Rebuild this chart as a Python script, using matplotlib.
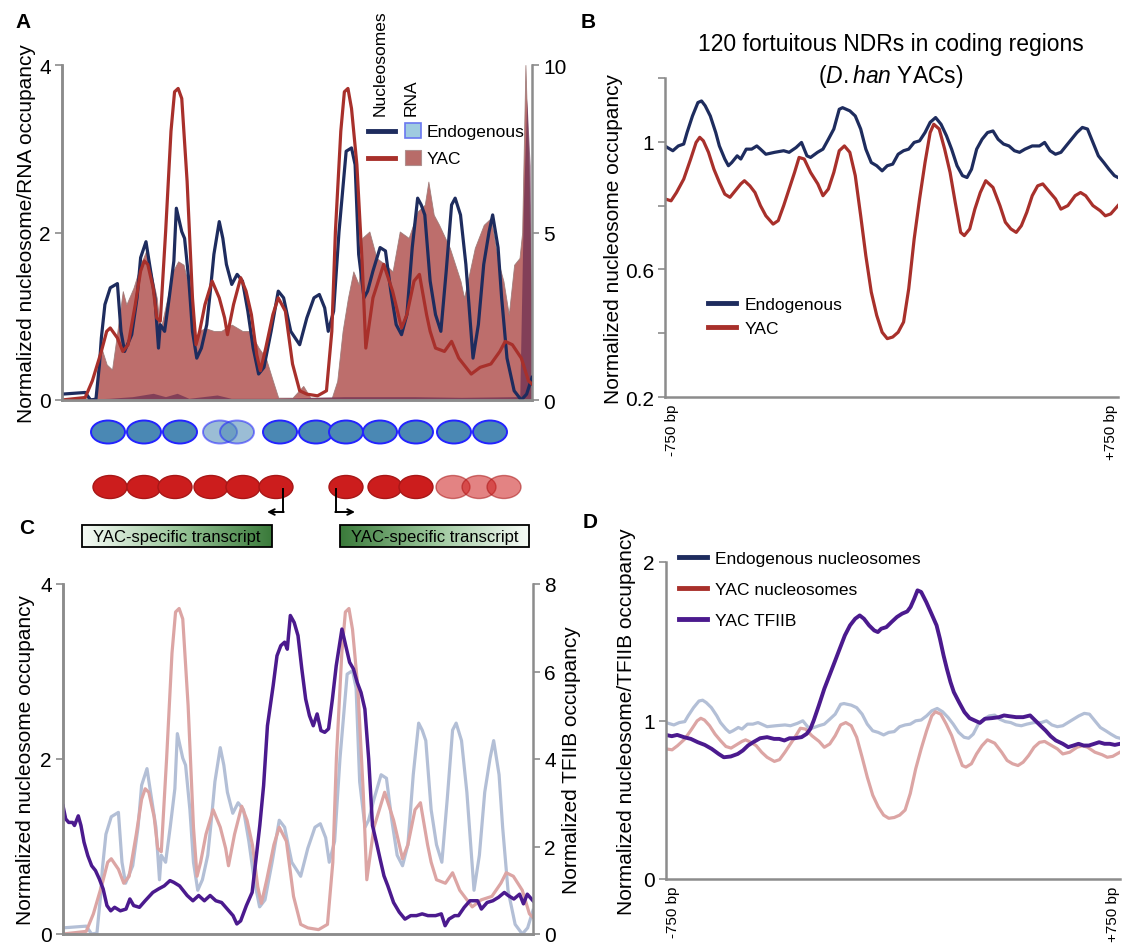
import numpy as np
import matplotlib.pyplot as plt
from matplotlib.patches import Ellipse, Rectangle
from matplotlib.colors import LinearSegmentedColormap
from matplotlib.lines import Line2D

plt.rcParams['font.family'] = ['Liberation Sans', 'DejaVu Sans']
plt.rcParams['mathtext.fontset'] = 'custom'
plt.rcParams['mathtext.rm'] = 'Liberation Sans'
plt.rcParams['mathtext.it'] = 'Liberation Sans:italic'

# ---- panel A / C : single locus, x in % of the window ----
a_navy_x = [0, 4.94, 6.08, 7.22, 7.98, 8.37, 9.13, 10.27, 11.79, 12.55,
            13.31, 14.83, 15.97, 16.73, 17.87, 18.63, 19.77, 20.53, 20.91, 21.83,
            22.81, 23.80, 24.33, 25.48, 26.08, 27.00, 27.76, 28.67, 29.66, 30.80,
            31.56, 32.32, 33.46, 34.22, 34.98, 36.12, 37.26, 38.40, 39.54, 40.68,
            41.83, 42.97, 44.49, 46.01, 47.15, 48.67, 50.57, 52.09, 53.61, 54.75,
            55.89, 56.65, 57.79, 58.94, 59.70, 60.46, 61.60, 62.36, 63.12, 64.26,
            65.02, 66.16, 67.68, 68.82, 69.96, 71.10, 72.24, 73.38, 74.52, 75.67,
            76.43, 77.19, 78.33, 79.47, 80.61, 81.75, 82.89, 83.65, 84.79, 85.93,
            87.45, 88.59, 89.73, 90.87, 91.63, 92.78, 93.54, 94.68, 96.20, 97.72,
            98.86, 100]
a_navy_y = [0.07, 0.09, 0.0, 0.01, 0.43, 0.74, 1.14, 1.34, 1.39, 0.82,
            0.58, 0.78, 1.22, 1.70, 1.89, 1.62, 1.22, 0.62, 0.90, 0.82,
            1.22, 1.66, 2.29, 2.01, 1.93, 1.42, 0.82, 0.50, 0.62, 0.90,
            1.30, 1.74, 2.13, 1.93, 1.62, 1.38, 1.50, 1.42, 1.06, 0.62,
            0.31, 0.39, 0.82, 1.30, 1.22, 0.82, 0.66, 0.98, 1.22, 1.26,
            1.10, 0.82, 1.06, 2.01, 2.49, 2.97, 3.01, 2.81, 1.74, 1.22,
            1.30, 1.54, 1.82, 1.78, 1.30, 0.90, 0.78, 1.02, 1.82, 2.41,
            2.33, 2.21, 1.42, 1.02, 0.82, 1.54, 2.33, 2.41, 2.21, 1.62,
            0.50, 0.90, 1.62, 2.01, 2.21, 1.82, 1.22, 0.50, 0.11, 0.0,
            0.07, 0.27]

a_red_x = [0, 4.94, 6.46, 8.37, 9.51, 10.27, 11.79, 12.93, 14.07, 15.59,
           16.73, 17.49, 18.25, 19.39, 20.15, 20.91, 22.05, 23.19, 23.95, 24.71,
           25.48, 26.62, 27.76, 28.52, 29.28, 30.42, 31.94, 33.46, 34.60, 35.21,
           36.50, 38.02, 39.16, 40.30, 41.44, 42.21, 43.35, 44.87, 46.01, 47.53,
           49.05, 50.57, 52.09, 54.37, 56.27, 57.41, 58.17, 59.32, 60.08, 60.84,
           61.60, 62.74, 63.88, 64.64, 66.16, 68.44, 70.34, 72.24, 73.38, 74.90,
           76.05, 77.57, 78.33, 79.47, 81.37, 82.89, 84.41, 87.07, 88.97, 91.25,
           93.16, 94.30, 95.82, 97.72, 99.24, 100]
a_red_y = [0.0, 0.03, 0.23, 0.58, 0.82, 0.86, 0.74, 0.58, 0.66, 1.14,
           1.54, 1.66, 1.62, 1.34, 0.98, 0.94, 2.01, 3.21, 3.68, 3.72,
           3.60, 2.61, 1.22, 0.66, 0.82, 1.14, 1.42, 1.22, 0.98, 0.78,
           1.14, 1.46, 1.30, 1.02, 0.54, 0.35, 0.62, 1.02, 1.22, 1.06,
           0.43, 0.11, 0.07, 0.05, 0.11, 0.82, 2.01, 3.21, 3.68, 3.72,
           3.48, 2.81, 1.62, 0.62, 1.22, 1.62, 1.30, 0.86, 1.02, 1.42,
           1.50, 1.02, 0.82, 0.62, 0.58, 0.70, 0.50, 0.31, 0.39, 0.43,
           0.58, 0.70, 0.66, 0.50, 0.23, 0.19]

rna_yac_x = [0, 7.22, 8.37, 9.51, 10.65, 11.79, 12.93, 13.69, 15.21, 16.73,
             17.87, 18.63, 20.15, 20.91, 22.43, 23.57, 24.71, 25.86, 27.00, 28.14,
             29.28, 30.42, 32.32, 33.84, 36.12, 38.40, 39.92, 41.83, 43.35, 44.87,
             46.01, 49.05, 51.33, 52.85, 57.41, 58.56, 59.70, 60.84, 61.98, 63.12,
             63.88, 65.40, 66.92, 68.82, 70.34, 71.86, 73.76, 75.67, 77.19, 77.95,
             79.09, 80.23, 82.51, 84.79, 85.55, 87.83, 89.73, 91.25, 92.78, 93.92,
             95.06, 96.20, 97.34, 97.90, 98.60, 99.24, 100]
rna_yac_y = [0, 0.07, 1.56, 1.06, 0.91, 2.06, 3.25, 2.85, 3.35, 4.04,
             4.44, 4.04, 3.05, 2.06, 3.05, 3.84, 4.14, 4.04, 3.35, 1.56,
             2.06, 2.15, 2.06, 2.06, 2.25, 2.06, 2.06, 1.56, 1.26, 0.57,
             0.07, 0.07, 0.42, 0.07, 0.07, 0.57, 2.06, 3.05, 3.84, 3.45,
             4.84, 5.03, 4.24, 4.04, 3.84, 5.03, 4.84, 5.63, 5.83, 6.52,
             5.53, 5.23, 4.54, 3.55, 3.05, 4.54, 5.23, 5.43, 4.14, 3.55,
             2.55, 4.04, 4.24, 5.0, 10.0, 7.0, 1.5]

rna_endo_x = [0, 10, 15, 19.4, 22, 24.5, 27, 33, 36, 45, 60, 75, 85, 96.5, 97.4, 98.2, 98.9, 99.6, 100]
rna_endo_y = [0, 0.05, 0.1, 0.2, 0.1, 0.2, 0.05, 0.15, 0.05, 0.05, 0.1, 0.1, 0.08, 0.1, 0.1, 6.0, 9.0, 7.0, 1.0]

c_tfiib_x = [0, 0.57, 1.22, 2.03, 2.44, 3.25, 3.82, 4.47, 5.28, 6.10,
             6.91, 7.72, 8.54, 9.35, 10.16, 10.98, 12.20, 13.41, 14.23, 15.04,
             16.26, 17.48, 19.11, 20.33, 21.54, 22.76, 23.58, 24.80, 26.42, 27.64,
             28.86, 30.08, 31.30, 32.52, 33.74, 34.96, 36.18, 36.99, 37.80, 39.02,
             40.24, 41.06, 41.87, 42.68, 43.50, 44.72, 45.53, 46.34, 47.15, 47.72,
             48.37, 49.19, 50.00, 50.81, 51.63, 52.44, 53.25, 54.07, 54.88, 55.69,
             56.50, 57.32, 58.13, 59.35, 60.16, 60.98, 61.79, 62.60, 63.41, 64.23,
             65.04, 65.85, 66.67, 67.48, 68.29, 69.11, 70.33, 71.54, 72.76, 73.98,
             75.20, 76.42, 77.64, 79.27, 80.49, 81.30, 82.11, 83.33, 84.15, 85.37,
             86.59, 88.21, 89.02, 90.24, 91.46, 92.68, 93.90, 94.72, 95.93, 97.15,
             97.97, 98.78, 100]
c_tfiib_y = [2.93, 2.63, 2.55, 2.55, 2.48, 2.70, 2.48, 2.10, 1.79, 1.56,
             1.45, 1.26, 1.03, 0.65, 0.53, 0.61, 0.53, 0.57, 0.80, 0.65,
             0.61, 0.76, 0.95, 1.03, 1.10, 1.22, 1.18, 1.10, 0.88, 0.76,
             0.88, 0.76, 0.88, 0.76, 0.72, 0.57, 0.42, 0.23, 0.30, 0.65,
             0.95, 1.71, 2.48, 3.39, 4.76, 5.68, 6.36, 6.59, 6.67, 6.51,
             7.28, 7.12, 6.82, 6.06, 5.37, 4.99, 4.76, 5.03, 4.65, 4.61,
             4.69, 5.37, 6.13, 6.97, 6.59, 6.21, 6.06, 5.75, 5.52, 5.14,
             4.00, 2.48, 2.10, 1.71, 1.33, 1.10, 0.72, 0.50, 0.34, 0.42,
             0.42, 0.46, 0.42, 0.42, 0.46, 0.19, 0.34, 0.42, 0.42, 0.61,
             0.76, 0.76, 0.57, 0.72, 0.76, 0.84, 0.95, 0.88, 0.80, 0.91,
             0.69, 0.91, 0.76]

# ---- panel B / D : 120 NDR average, x in bp ----
b_endo_x = [-750, -742, -724, -706, -688, -677, -659, -641, -629, -617,
            -600, -582, -570, -552, -540, -529, -511, -499, -481, -463,
            -446, -434, -416, -387, -357, -339, -316, -298, -280, -268,
            -245, -227, -209, -191, -173, -162, -138, -120, -102, -85,
            -67, -49, -31, -14, 4, 22, 40, 57, 75, 93,
            111, 128, 146, 164, 182, 199, 217, 235, 250, 265,
            282, 300, 318, 336, 353, 371, 389, 407, 424, 442,
            466, 490, 507, 525, 543, 561, 578, 596, 614, 632,
            649, 667, 685, 703, 720, 738, 750]
b_endo_y = [0.987, 0.982, 0.972, 0.987, 0.993, 1.029, 1.081, 1.123, 1.128, 1.113,
            1.081, 1.029, 0.987, 0.946, 0.925, 0.935, 0.956, 0.946, 0.977, 0.977,
            0.987, 0.977, 0.961, 0.967, 0.972, 0.967, 0.982, 0.998, 0.956, 0.951,
            0.967, 0.977, 1.008, 1.040, 1.102, 1.107, 1.097, 1.081, 1.040, 0.977,
            0.935, 0.925, 0.909, 0.925, 0.930, 0.961, 0.972, 0.977, 0.998, 1.003,
            1.029, 1.061, 1.076, 1.055, 1.019, 0.977, 0.925, 0.894, 0.888, 0.914,
            0.977, 1.008, 1.029, 1.034, 1.008, 0.993, 0.987, 0.972, 0.967, 0.977,
            0.987, 0.987, 0.998, 0.972, 0.961, 0.967, 0.987, 1.008, 1.029, 1.045,
            1.040, 0.998, 0.956, 0.935, 0.914, 0.894, 0.888]

b_yac_x = [-750, -730, -712, -688, -665, -647, -635, -623, -606, -588,
           -570, -552, -535, -517, -499, -487, -469, -452, -434, -416,
           -392, -375, -357, -339, -321, -306, -289, -268, -244, -227,
           -209, -191, -173, -156, -138, -120, -102, -85, -67, -49,
           -31, -14, 4, 22, 40, 57, 75, 93, 111, 128,
           140, 158, 176, 194, 211, 229, 241, 259, 276, 294,
           312, 336, 359, 377, 395, 413, 430, 448, 466, 484,
           501, 525, 543, 561, 584, 608, 626, 643, 667, 691,
           708, 726, 750]
b_yac_y = [0.821, 0.815, 0.841, 0.883, 0.946, 0.998, 1.014, 1.003, 0.967, 0.914,
           0.873, 0.836, 0.826, 0.847, 0.868, 0.878, 0.862, 0.841, 0.800, 0.768,
           0.742, 0.753, 0.800, 0.852, 0.904, 0.951, 0.946, 0.904, 0.868, 0.831,
           0.852, 0.904, 0.972, 0.987, 0.967, 0.894, 0.768, 0.643, 0.529, 0.456,
           0.403, 0.383, 0.388, 0.403, 0.435, 0.539, 0.695, 0.821, 0.935, 1.029,
           1.055, 1.040, 0.977, 0.904, 0.810, 0.716, 0.706, 0.727, 0.789, 0.841,
           0.878, 0.857, 0.800, 0.748, 0.727, 0.716, 0.737, 0.779, 0.831, 0.862,
           0.868, 0.841, 0.821, 0.789, 0.800, 0.831, 0.841, 0.831, 0.800, 0.784,
           0.768, 0.774, 0.800]

d_tfiib_x = [-750, -731, -713, -691, -668, -645, -622, -599, -576, -559,
             -536, -513, -496, -479, -462, -439, -416, -393, -376, -359,
             -342, -325, -302, -285, -273, -262, -245, -227, -210, -193,
             -176, -159, -142, -125, -110, -96, -79, -62, -50, -39,
             -22, -5, 13, 30, 47, 58, 70, 81, 93, 110,
             127, 144, 155, 167, 178, 190, 201, 218, 236, 253,
             270, 287, 304, 327, 350, 367, 384, 407, 430, 453,
             470, 487, 504, 521, 538, 561, 579, 596, 613, 630,
             647, 665, 681, 699, 716, 733, 750]
d_tfiib_y = [0.909, 0.901, 0.909, 0.895, 0.884, 0.863, 0.846, 0.821, 0.789, 0.768,
             0.773, 0.789, 0.811, 0.842, 0.863, 0.888, 0.895, 0.884, 0.884, 0.874,
             0.888, 0.888, 0.895, 0.916, 0.947, 1.000, 1.095, 1.200, 1.284, 1.368,
             1.453, 1.537, 1.600, 1.642, 1.663, 1.642, 1.600, 1.568, 1.558, 1.579,
             1.589, 1.621, 1.653, 1.674, 1.688, 1.716, 1.768, 1.821, 1.811, 1.747,
             1.674, 1.600, 1.516, 1.411, 1.326, 1.242, 1.179, 1.116, 1.053, 1.015,
             1.000, 0.985, 1.011, 1.015, 1.021, 1.032, 1.027, 1.021, 1.021, 1.032,
             1.000, 0.968, 0.937, 0.901, 0.874, 0.853, 0.832, 0.842, 0.853, 0.842,
             0.842, 0.853, 0.863, 0.853, 0.853, 0.846, 0.853]

# schematic nucleosome positions (figure pixels)
endo_nuc_x = [108, 144, 180, 220, 237, 280, 316, 346, 380, 416, 454, 490]
endo_nuc_fuzzy = [False, False, False, True, True, False, False, False, False, False, False, False]
yac_nuc_x = [110, 144, 175, 211, 243, 276, 346, 385, 416, 453, 479, 504]
yac_nuc_fuzzy = [False] * 9 + [True, True, True]

NAVY = '#1e2c5e'
RED = '#a8302b'
RNA_FILL = '#b8625f'
ENDO_FILL = '#6a2c50'
NAVY_FADE = '#b3bfd6'
RED_FADE = '#dca5a4'
PURPLE = '#4b1a8e'
GRAY = '#8c8c8c'

W, H = 1126, 945


def box(l, t, r, b):
    return [l / W, 1 - b / H, (r - l) / W, (b - t) / H]


def style(ax, sides):
    for s in ['left', 'right', 'top', 'bottom']:
        ax.spines[s].set_visible(s in sides)
        ax.spines[s].set_color(GRAY)
        ax.spines[s].set_linewidth(1.8)
    ax.tick_params(direction='out', length=5, width=1.2, color=GRAY, labelsize=15, pad=3)


def bp_ticks(ax):
    ax.set_xticks([-750, 750])
    ax.set_xticklabels(['-750 bp', '+750 bp'], rotation=90, fontsize=11)
    ax.tick_params(axis='x', length=0, pad=5)
    lab = ax.get_xticklabels()
    lab[0].set_ha('left')
    lab[1].set_ha('right')


fig = plt.figure(figsize=(W / 100, H / 100), dpi=100)

# ---------------- A ----------------
ax_a = fig.add_axes(box(62, 66, 532, 401))
ax_a2 = ax_a.twinx()
ax_a.set_zorder(ax_a2.get_zorder() + 1)
ax_a.patch.set_visible(False)
ax_a2.fill_between(rna_yac_x, rna_yac_y, color=RNA_FILL, alpha=0.92, edgecolor='#9c7a78', lw=0.6)
ax_a2.fill_between(rna_endo_x, rna_endo_y, color=ENDO_FILL, alpha=0.7, lw=0)
ax_a.plot(a_navy_x, a_navy_y, color=NAVY, lw=2.3)
ax_a.plot(a_red_x, a_red_y, color=RED, lw=2.3)
ax_a.set_xlim(0, 100)
ax_a.set_ylim(0, 4)
ax_a2.set_ylim(0, 10)
ax_a.set_yticks([0, 2, 4])
ax_a2.set_yticks([0, 5, 10])
ax_a.set_xticks([])
style(ax_a, ['left', 'bottom'])
style(ax_a2, ['right', 'left', 'bottom'])
ax_a.set_ylabel('Normalized nucleosome/RNA occupancy', fontsize=15)
ax_a.yaxis.set_label_coords(-0.055, 0.5)

# ---------------- B ----------------
ax_b = fig.add_axes(box(665, 79, 1118, 398))
ax_b.plot(b_endo_x, b_endo_y, color=NAVY, lw=2.3)
ax_b.plot(b_yac_x, b_yac_y, color=RED, lw=2.3)
ax_b.set_xlim(-750, 750)
ax_b.set_ylim(0.2, 1.2)
ax_b.set_yticks([0.2, 0.4, 0.6, 0.8, 1.0, 1.2])
ax_b.set_yticklabels(['0.2', '', '0.6', '', '1', ''])
style(ax_b, ['left', 'bottom'])
bp_ticks(ax_b)
ax_b.set_ylabel('Normalized nucleosome occupancy', fontsize=15)
ax_b.yaxis.set_label_coords(-0.093, 0.5)
fig.text(891 / W, 1 - 45 / H, '120 fortuitous NDRs in coding regions', ha='center', va='center', fontsize=16.5)
fig.text(891 / W, 1 - 77 / H, r'($\mathit{D.han}$ YACs)', ha='center', va='center', fontsize=16.5)
ax_b.legend(handles=[Line2D([], [], color=NAVY, lw=3.5), Line2D([], [], color=RED, lw=3.5)],
            labels=['Endogenous', 'YAC'], loc='upper left',
            bbox_to_anchor=(708 / W, 1 - 298 / H), bbox_transform=fig.transFigure,
            frameon=False, fontsize=12.5, handlelength=1.6, handletextpad=0.5,
            labelspacing=0.5, borderpad=0, borderaxespad=0)

# ---------------- C ----------------
ax_c = fig.add_axes(box(63, 585, 533, 935))
ax_c2 = ax_c.twinx()
ax_c.plot(a_navy_x, a_navy_y, color=NAVY_FADE, lw=2.3)
ax_c.plot(a_red_x, a_red_y, color=RED_FADE, lw=2.3)
ax_c2.plot(c_tfiib_x, c_tfiib_y, color=PURPLE, lw=2.5)
ax_c.set_xlim(0, 100)
ax_c.set_ylim(0, 4)
ax_c2.set_ylim(0, 8)
ax_c.set_yticks([0, 2, 4])
ax_c2.set_yticks([0, 2, 4, 6, 8])
ax_c.set_xticks([])
style(ax_c, ['left', 'bottom'])
style(ax_c2, ['right', 'left', 'bottom'])
ax_c.set_ylabel('Normalized nucleosome occupancy', fontsize=15)
ax_c.yaxis.set_label_coords(-0.060, 0.5)
ax_c2.set_ylabel('Normalized TFIIB occupancy', fontsize=15)
ax_c2.yaxis.set_label_coords(1.062, 0.5)

# ---------------- D ----------------
ax_d = fig.add_axes(box(666, 563, 1120, 880))
ax_d.plot(b_endo_x, b_endo_y, color=NAVY_FADE, lw=2.3)
ax_d.plot(b_yac_x, b_yac_y, color=RED_FADE, lw=2.3)
ax_d.plot(d_tfiib_x, d_tfiib_y, color=PURPLE, lw=2.8)
ax_d.set_xlim(-750, 750)
ax_d.set_ylim(0, 2)
ax_d.set_yticks([0, 1, 2])
style(ax_d, ['left', 'bottom'])
bp_ticks(ax_d)
ax_d.set_ylabel('Normalized nucleosome/TFIIB occupancy', fontsize=15)
ax_d.yaxis.set_label_coords(-0.066, 0.5)
ax_d.legend(handles=[Line2D([], [], color=NAVY, lw=3.5), Line2D([], [], color=RED, lw=3.5),
                     Line2D([], [], color=PURPLE, lw=3.5)],
            labels=['Endogenous nucleosomes', 'YAC nucleosomes', 'YAC TFIIB'], loc='upper left',
            bbox_to_anchor=(679 / W, 1 - 552 / H), bbox_transform=fig.transFigure,
            frameon=False, fontsize=12.5, handlelength=1.6, handletextpad=0.5,
            labelspacing=0.9, borderpad=0, borderaxespad=0)

# ---------------- schematic / overlay ----------------
deco = fig.add_axes([0, 0, 1, 1], zorder=10)
deco.patch.set_visible(False)

for x, fz in zip(endo_nuc_x, endo_nuc_fuzzy):
    deco.add_patch(Ellipse((x, 433), 34, 23, facecolor='#4a88b4', edgecolor='#2323ff',
                           lw=1.4, alpha=0.55 if fz else 1.0))
for x, fz in zip(yac_nuc_x, yac_nuc_fuzzy):
    deco.add_patch(Ellipse((x, 488), 34, 23, facecolor='#cc1d1d', edgecolor='#a81717',
                           lw=1.0, alpha=0.55 if fz else 1.0))

deco.plot([283, 283], [490, 513], color='black', lw=1.4)
deco.annotate('', xy=(267, 513), xytext=(283.7, 513),
              arrowprops=dict(arrowstyle='->', lw=1.4, color='black', shrinkA=0, shrinkB=0))
deco.plot([336, 336], [490, 513], color='black', lw=1.4)
deco.annotate('', xy=(355, 513), xytext=(335.3, 513),
              arrowprops=dict(arrowstyle='->', lw=1.4, color='black', shrinkA=0, shrinkB=0))

green = LinearSegmentedColormap.from_list('g', ['#f6fbf6', '#9cc79c', '#3a7a3a'])
grad = np.linspace(0, 1, 256).reshape(1, -1)
deco.imshow(grad, extent=(82, 272, 548, 526), cmap=green, aspect='auto', zorder=2)
deco.imshow(grad[:, ::-1], extent=(340, 529, 548, 526), cmap=green, aspect='auto', zorder=2)
for l, r in [(82, 272), (340, 529)]:
    deco.add_patch(Rectangle((l, 526), r - l, 22, fill=False, edgecolor='black', lw=1.3, zorder=3))
    deco.text((l + r) / 2, 537.5, 'YAC-specific transcript', ha='center', va='center',
              fontsize=12, zorder=4)

# legend of panel A
deco.text(380, 116, 'Nucleosomes', rotation=90, ha='center', va='bottom', fontsize=12.5)
deco.text(411, 116, 'RNA', rotation=90, ha='center', va='bottom', fontsize=12.5)
deco.plot([368, 395], [132, 132], color=NAVY, lw=3.5)
deco.plot([368, 395], [159, 159], color=RED, lw=3.5)
deco.add_patch(Rectangle((405, 124), 16, 15, facecolor='#9fcbe0', edgecolor='#6a78f0', lw=1.2))
deco.add_patch(Rectangle((405, 151), 16, 15, facecolor='#b86c69', edgecolor='#b0908e', lw=0.8))
deco.text(427, 132, 'Endogenous', va='center', fontsize=12.5)
deco.text(427, 159, 'YAC', va='center', fontsize=12.5)

for lbl, x, y in [('A', 23, 22), ('B', 588, 22), ('C', 27, 528), ('D', 590, 523)]:
    deco.text(x, y, lbl, ha='center', va='center', fontsize=15, fontweight='bold')

deco.set_xlim(0, W)
deco.set_ylim(H, 0)
deco.axis('off')

fig.savefig('out.png', dpi=100)
